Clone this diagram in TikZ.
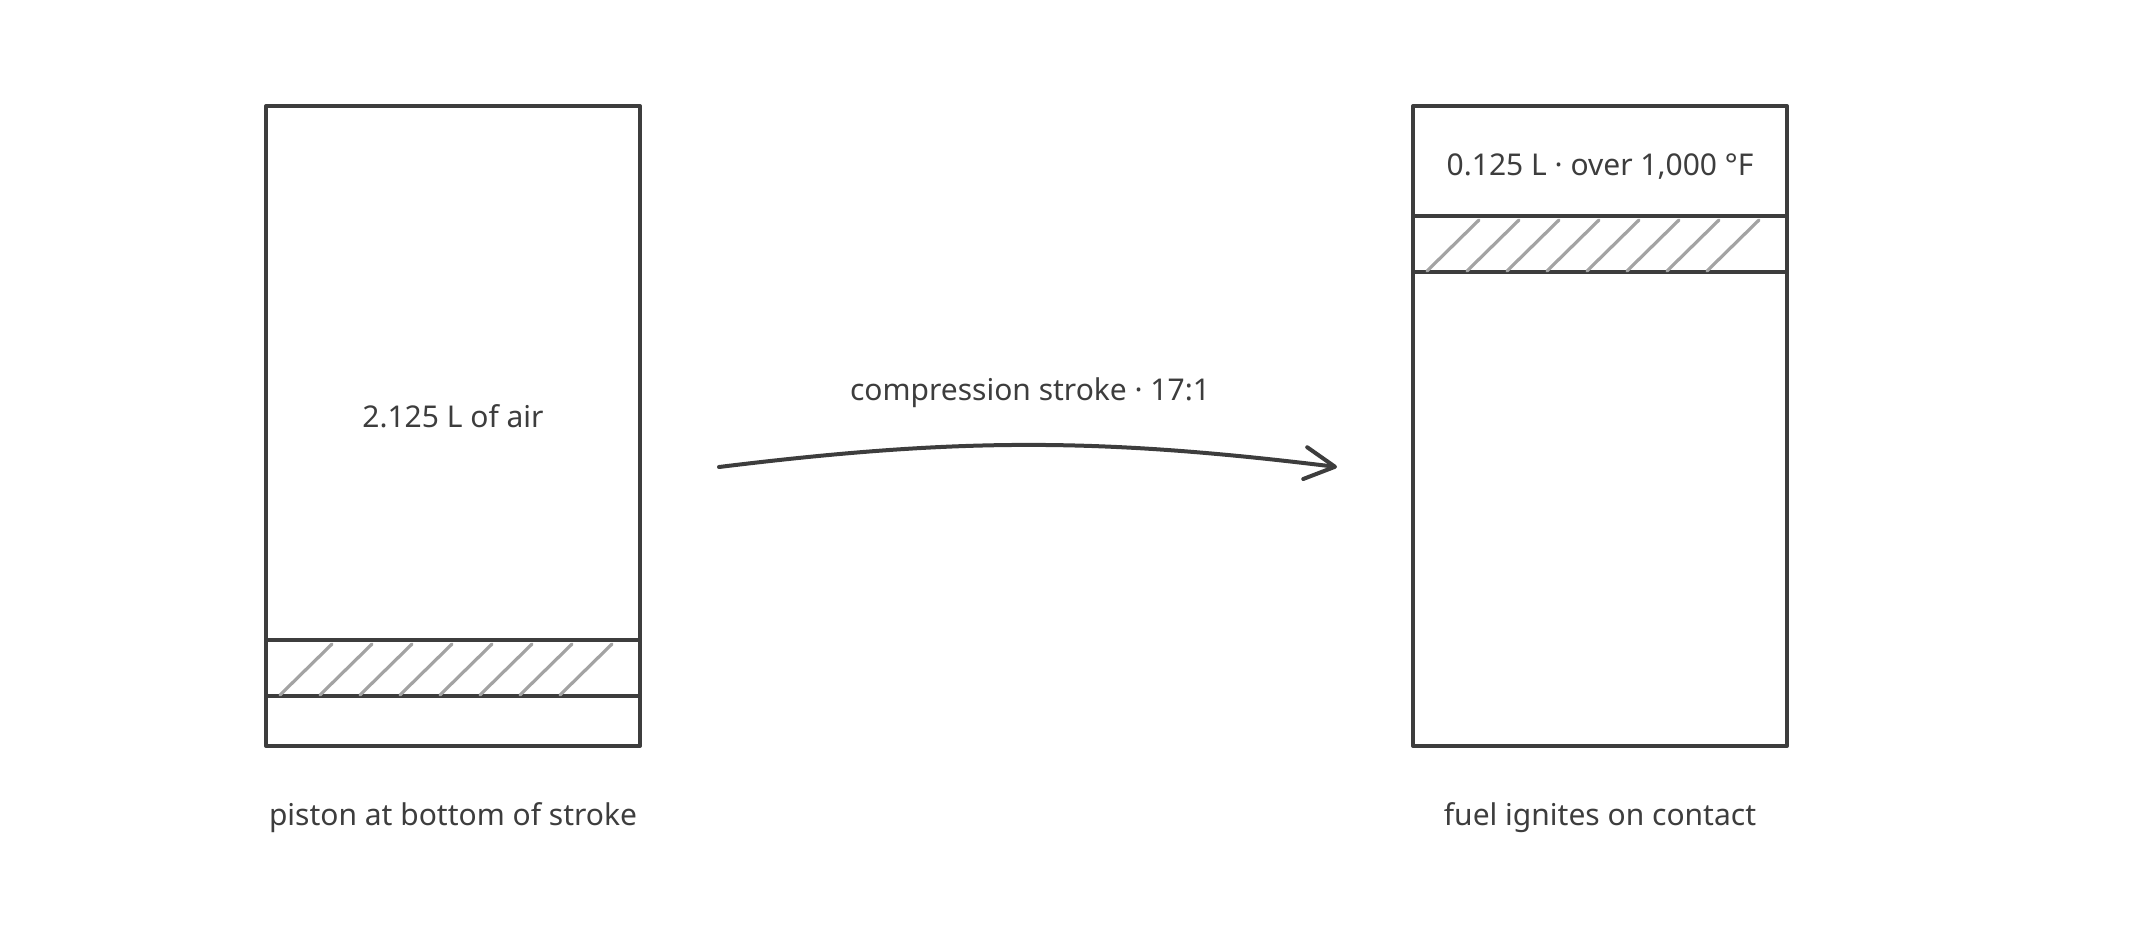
\documentclass[tikz,border=0pt]{standalone}
\usepackage{fontspec}
\setmainfont{Noto Sans}
\usetikzlibrary{positioning,arrows.meta}
\definecolor{ink}{HTML}{3D3D3D}
\definecolor{hatchgray}{HTML}{A3A3A3}

\begin{document}
\begin{tikzpicture}[x=.5pt, y=-.5pt, line join=round, ink,
  font=\fontsize{15}{17}\selectfont,
  cylinder/.style={draw=ink, line width=2pt, minimum width=187pt, minimum height=320pt, inner sep=0pt},
  piston/.style={draw=ink, line width=2pt, minimum width=187pt, minimum height=28pt, inner sep=0pt},
  hatchline/.style={draw=hatchgray, line width=1.6pt, line cap=round}]
\useasboundingbox (0,0) rectangle (2133,933);

% cylinders
\node[cylinder] (bdc) at (453,426) {};
\node[cylinder] (tdc) at (1600,426) {};

% pistons
\node[piston] (bdcpiston) at (453,668) {};
\node[piston] (tdcpiston) at (1600,244) {};
\foreach \p in {bdcpiston, tdcpiston}
{
    \foreach \i in {0,...,7}
        \draw[hatchline] ([shift={(16+40*\i,-3)}]\p.south west) -- ++(52,-51);
}

% texts
\node (air) at (453,416) {2.125 L of air};
\node (hot) at (1600,167) {0.125 L · over 1,000 °F};
\node (bdclabel) at (453,818) {piston at bottom of stroke};
\node (tdclabel) at (1600,818) {fuel ignites on contact};

% stroke arrow
\coordinate (from) at (719,467);
\coordinate (to) at (1337,467);
\draw[line width=2pt, line cap=round, -{Straight Barb[length=15pt, width=16pt, line cap=round, line join=round]}]
    (from) to[bend left=7] (to);
\node (ratio) at (1030,393) {compression stroke · 17:1};
\end{tikzpicture}
\end{document}
